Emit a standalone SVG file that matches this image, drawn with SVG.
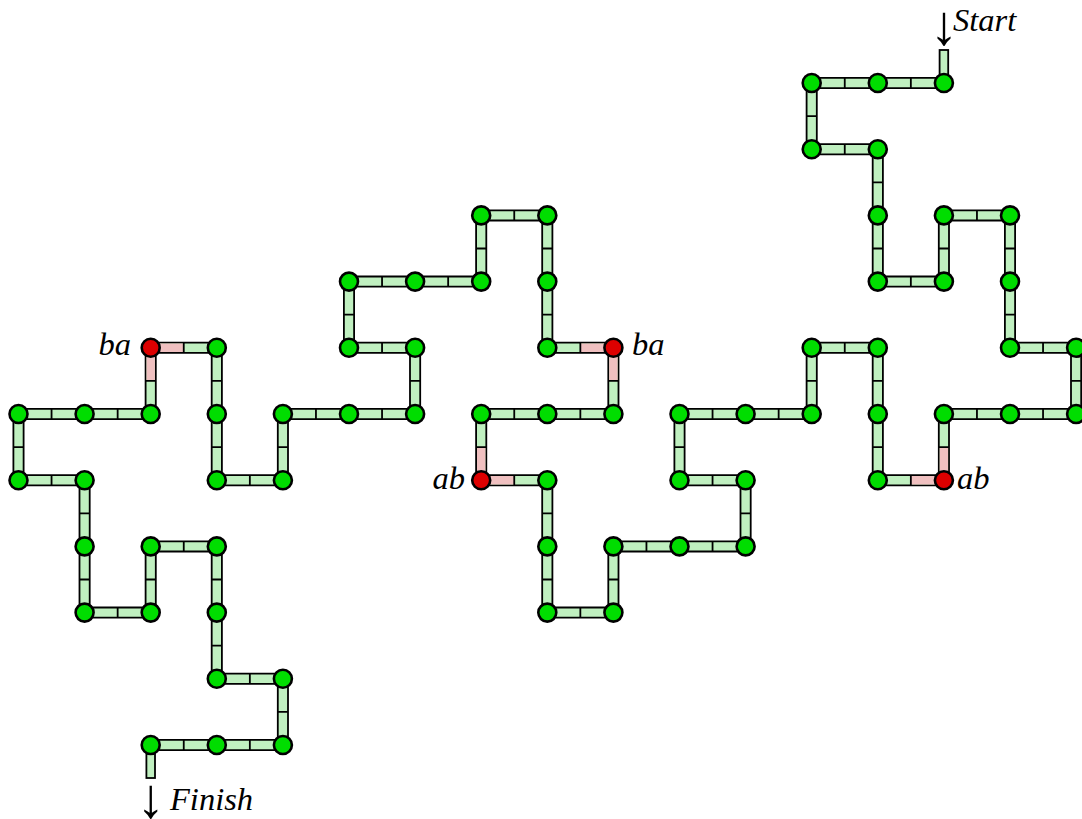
<svg xmlns="http://www.w3.org/2000/svg" width="1082" height="819" viewBox="0 0 1082 819">
<style>
.outline{fill:none;stroke:#000;stroke-width:12;stroke-linejoin:miter}
.bar{fill:none;stroke:#c0f0c0;stroke-width:8.4;stroke-linejoin:miter}
.pink{fill:none;stroke:#f0c0c0;stroke-width:8.4;stroke-linecap:butt}
.div{fill:none;stroke:#000;stroke-width:1.8}
.stub{fill:#c0f0c0;stroke:#000;stroke-width:1.8}
.n circle{fill:#00dd00;stroke:#000;stroke-width:2.6}
.n.r circle{fill:#dd0000}
.lbl{font-family:"Liberation Serif","Times New Roman",serif;font-style:italic;font-size:32.5px;fill:#000}
.arr{font-style:normal;font-size:56px}
</style>
<g id="connectors">
<rect class="stub" x="939.6" y="50" width="8.6" height="33"/>
<rect class="stub" x="146.4" y="745" width="8.6" height="33"/>
<polyline class="outline" points="943.9,83 877.8,83 811.7,83 811.7,149.2 877.8,149.2 877.8,215.4 877.8,281.6 943.9,281.6 943.9,215.4 1010,215.4 1010,281.6 1010,347.8 1076.1,347.8 1076.1,414 1010,414 943.9,414 943.9,480.2 877.8,480.2 877.8,414 877.8,347.8 811.7,347.8 811.7,414 745.6,414 679.5,414 679.5,480.2 745.6,480.2 745.6,546.4 679.5,546.4 613.4,546.4 613.4,612.6 547.3,612.6 547.3,546.4 547.3,480.2 481.2,480.2 481.2,414 547.3,414 613.4,414 613.4,347.8 547.3,347.8 547.3,281.6 547.3,215.4 481.2,215.4 481.2,281.6 415.1,281.6 349,281.6 349,347.8 415.1,347.8 415.1,414 349,414 282.9,414 282.9,480.2 216.8,480.2 216.8,414 216.8,347.8 150.7,347.8 150.7,414 84.6,414 18.5,414 18.5,480.2 84.6,480.2 84.6,546.4 84.6,612.6 150.7,612.6 150.7,546.4 216.8,546.4 216.8,612.6 216.8,678.8 282.9,678.8 282.9,745 216.8,745 150.7,745"/>
<polyline class="bar" points="943.9,83 877.8,83 811.7,83 811.7,149.2 877.8,149.2 877.8,215.4 877.8,281.6 943.9,281.6 943.9,215.4 1010,215.4 1010,281.6 1010,347.8 1076.1,347.8 1076.1,414 1010,414 943.9,414 943.9,480.2 877.8,480.2 877.8,414 877.8,347.8 811.7,347.8 811.7,414 745.6,414 679.5,414 679.5,480.2 745.6,480.2 745.6,546.4 679.5,546.4 613.4,546.4 613.4,612.6 547.3,612.6 547.3,546.4 547.3,480.2 481.2,480.2 481.2,414 547.3,414 613.4,414 613.4,347.8 547.3,347.8 547.3,281.6 547.3,215.4 481.2,215.4 481.2,281.6 415.1,281.6 349,281.6 349,347.8 415.1,347.8 415.1,414 349,414 282.9,414 282.9,480.2 216.8,480.2 216.8,414 216.8,347.8 150.7,347.8 150.7,414 84.6,414 18.5,414 18.5,480.2 84.6,480.2 84.6,546.4 84.6,612.6 150.7,612.6 150.7,546.4 216.8,546.4 216.8,612.6 216.8,678.8 282.9,678.8 282.9,745 216.8,745 150.7,745"/>
<path class="pink" d="M943.9 480.2V447.1M943.9 480.2H910.85M481.2 480.2H514.25M481.2 480.2V447.1M613.4 347.8V380.9M613.4 347.8H580.35M150.7 347.8H183.75M150.7 347.8V380.9"/>
<path class="div" d="M910.85 78v10M844.75 78v10M806.7 116.1h10M844.75 144.2v10M872.8 182.3h10M872.8 248.5h10M910.85 276.6v10M938.9 248.5h10M976.95 210.4v10M1005 248.5h10M1005 314.7h10M1043.05 342.8v10M1071.1 380.9h10M1043.05 409v10M976.95 409v10M938.9 447.1h10M910.85 475.2v10M872.8 447.1h10M872.8 380.9h10M844.75 342.8v10M806.7 380.9h10M778.65 409v10M712.55 409v10M674.5 447.1h10M712.55 475.2v10M740.6 513.3h10M712.55 541.4v10M646.45 541.4v10M608.4 579.5h10M580.35 607.6v10M542.3 579.5h10M542.3 513.3h10M514.25 475.2v10M476.2 447.1h10M514.25 409v10M580.35 409v10M608.4 380.9h10M580.35 342.8v10M542.3 314.7h10M542.3 248.5h10M514.25 210.4v10M476.2 248.5h10M448.15 276.6v10M382.05 276.6v10M344 314.7h10M382.05 342.8v10M410.1 380.9h10M382.05 409v10M315.95 409v10M277.9 447.1h10M249.85 475.2v10M211.8 447.1h10M211.8 380.9h10M183.75 342.8v10M145.7 380.9h10M117.65 409v10M51.55 409v10M13.5 447.1h10M51.55 475.2v10M79.6 513.3h10M79.6 579.5h10M117.65 607.6v10M145.7 579.5h10M183.75 541.4v10M211.8 579.5h10M211.8 645.7h10M249.85 673.8v10M277.9 711.9h10M249.85 740v10M183.75 740v10"/>
</g>
<g id="n0" class="n"><circle cx="943.9" cy="83" r="9"/></g>
<g id="n1" class="n"><circle cx="877.8" cy="83" r="9"/></g>
<g id="n2" class="n"><circle cx="811.7" cy="83" r="9"/></g>
<g id="n3" class="n"><circle cx="811.7" cy="149.2" r="9"/></g>
<g id="n4" class="n"><circle cx="877.8" cy="149.2" r="9"/></g>
<g id="n5" class="n"><circle cx="877.8" cy="215.4" r="9"/></g>
<g id="n6" class="n"><circle cx="877.8" cy="281.6" r="9"/></g>
<g id="n7" class="n"><circle cx="943.9" cy="281.6" r="9"/></g>
<g id="n8" class="n"><circle cx="943.9" cy="215.4" r="9"/></g>
<g id="n9" class="n"><circle cx="1010" cy="215.4" r="9"/></g>
<g id="n10" class="n"><circle cx="1010" cy="281.6" r="9"/></g>
<g id="n11" class="n"><circle cx="1010" cy="347.8" r="9"/></g>
<g id="n12" class="n"><circle cx="1076.1" cy="347.8" r="9"/></g>
<g id="n13" class="n"><circle cx="1076.1" cy="414" r="9"/></g>
<g id="n14" class="n"><circle cx="1010" cy="414" r="9"/></g>
<g id="n15" class="n"><circle cx="943.9" cy="414" r="9"/></g>
<g id="n16" class="n r"><circle cx="943.9" cy="480.2" r="9"/></g>
<g id="n17" class="n"><circle cx="877.8" cy="480.2" r="9"/></g>
<g id="n18" class="n"><circle cx="877.8" cy="414" r="9"/></g>
<g id="n19" class="n"><circle cx="877.8" cy="347.8" r="9"/></g>
<g id="n20" class="n"><circle cx="811.7" cy="347.8" r="9"/></g>
<g id="n21" class="n"><circle cx="811.7" cy="414" r="9"/></g>
<g id="n22" class="n"><circle cx="745.6" cy="414" r="9"/></g>
<g id="n23" class="n"><circle cx="679.5" cy="414" r="9"/></g>
<g id="n24" class="n"><circle cx="679.5" cy="480.2" r="9"/></g>
<g id="n25" class="n"><circle cx="745.6" cy="480.2" r="9"/></g>
<g id="n26" class="n"><circle cx="745.6" cy="546.4" r="9"/></g>
<g id="n27" class="n"><circle cx="679.5" cy="546.4" r="9"/></g>
<g id="n28" class="n"><circle cx="613.4" cy="546.4" r="9"/></g>
<g id="n29" class="n"><circle cx="613.4" cy="612.6" r="9"/></g>
<g id="n30" class="n"><circle cx="547.3" cy="612.6" r="9"/></g>
<g id="n31" class="n"><circle cx="547.3" cy="546.4" r="9"/></g>
<g id="n32" class="n"><circle cx="547.3" cy="480.2" r="9"/></g>
<g id="n33" class="n r"><circle cx="481.2" cy="480.2" r="9"/></g>
<g id="n34" class="n"><circle cx="481.2" cy="414" r="9"/></g>
<g id="n35" class="n"><circle cx="547.3" cy="414" r="9"/></g>
<g id="n36" class="n"><circle cx="613.4" cy="414" r="9"/></g>
<g id="n37" class="n r"><circle cx="613.4" cy="347.8" r="9"/></g>
<g id="n38" class="n"><circle cx="547.3" cy="347.8" r="9"/></g>
<g id="n39" class="n"><circle cx="547.3" cy="281.6" r="9"/></g>
<g id="n40" class="n"><circle cx="547.3" cy="215.4" r="9"/></g>
<g id="n41" class="n"><circle cx="481.2" cy="215.4" r="9"/></g>
<g id="n42" class="n"><circle cx="481.2" cy="281.6" r="9"/></g>
<g id="n43" class="n"><circle cx="415.1" cy="281.6" r="9"/></g>
<g id="n44" class="n"><circle cx="349" cy="281.6" r="9"/></g>
<g id="n45" class="n"><circle cx="349" cy="347.8" r="9"/></g>
<g id="n46" class="n"><circle cx="415.1" cy="347.8" r="9"/></g>
<g id="n47" class="n"><circle cx="415.1" cy="414" r="9"/></g>
<g id="n48" class="n"><circle cx="349" cy="414" r="9"/></g>
<g id="n49" class="n"><circle cx="282.9" cy="414" r="9"/></g>
<g id="n50" class="n"><circle cx="282.9" cy="480.2" r="9"/></g>
<g id="n51" class="n"><circle cx="216.8" cy="480.2" r="9"/></g>
<g id="n52" class="n"><circle cx="216.8" cy="414" r="9"/></g>
<g id="n53" class="n"><circle cx="216.8" cy="347.8" r="9"/></g>
<g id="n54" class="n r"><circle cx="150.7" cy="347.8" r="9"/></g>
<g id="n55" class="n"><circle cx="150.7" cy="414" r="9"/></g>
<g id="n56" class="n"><circle cx="84.6" cy="414" r="9"/></g>
<g id="n57" class="n"><circle cx="18.5" cy="414" r="9"/></g>
<g id="n58" class="n"><circle cx="18.5" cy="480.2" r="9"/></g>
<g id="n59" class="n"><circle cx="84.6" cy="480.2" r="9"/></g>
<g id="n60" class="n"><circle cx="84.6" cy="546.4" r="9"/></g>
<g id="n61" class="n"><circle cx="84.6" cy="612.6" r="9"/></g>
<g id="n62" class="n"><circle cx="150.7" cy="612.6" r="9"/></g>
<g id="n63" class="n"><circle cx="150.7" cy="546.4" r="9"/></g>
<g id="n64" class="n"><circle cx="216.8" cy="546.4" r="9"/></g>
<g id="n65" class="n"><circle cx="216.8" cy="612.6" r="9"/></g>
<g id="n66" class="n"><circle cx="216.8" cy="678.8" r="9"/></g>
<g id="n67" class="n"><circle cx="282.9" cy="678.8" r="9"/></g>
<g id="n68" class="n"><circle cx="282.9" cy="745" r="9"/></g>
<g id="n69" class="n"><circle cx="216.8" cy="745" r="9"/></g>
<g id="n70" class="n"><circle cx="150.7" cy="745" r="9"/></g>
<g id="labels">
<text class="lbl" x="131" y="355" text-anchor="end">ba</text>
<text class="lbl" x="632" y="355">ba</text>
<text class="lbl" x="465" y="489" text-anchor="end">ab</text>
<text class="lbl" x="957" y="489">ab</text>
<text class="lbl"><tspan class="arr" x="944" y="44" text-anchor="middle">↓</tspan><tspan x="953" y="31" text-anchor="start">Start</tspan></text>
<text class="lbl"><tspan class="arr" x="150.7" y="817" text-anchor="middle">↓</tspan><tspan x="170" y="810" text-anchor="start">Finish</tspan></text>
</g>
</svg>
